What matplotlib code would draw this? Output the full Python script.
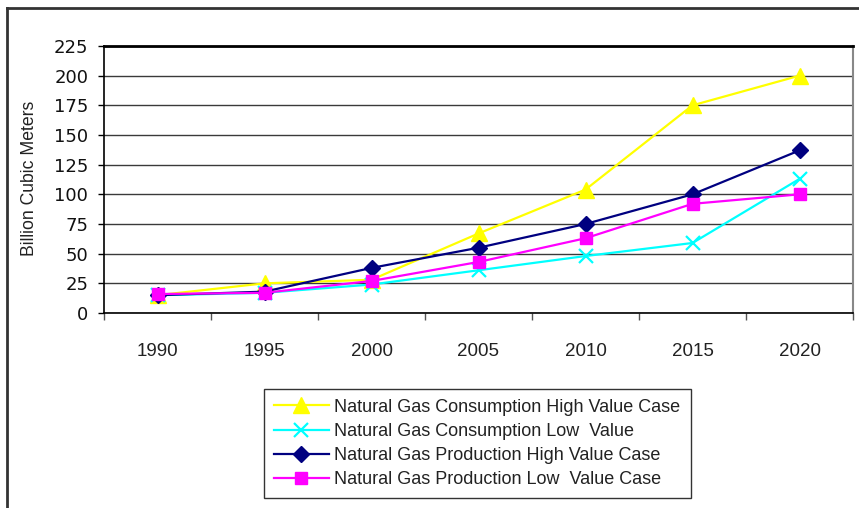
import matplotlib
matplotlib.use("Agg")
import matplotlib.pyplot as plt
from matplotlib.lines import Line2D

years = ["1990", "1995", "2000", "2005", "2010", "2015", "2020"]
cons_high = [15, 25, 28, 67, 104, 175, 200]
cons_low = [15, 17, 24, 36, 48, 59, 113]
prod_high = [15, 18, 38, 55, 75, 100, 137]
prod_low = [16, 17, 27, 43, 63, 92, 100]
labels = ["Natural Gas Consumption High Value Case",
          "Natural Gas Consumption Low  Value",
          "Natural Gas Production High Value Case",
          "Natural Gas Production Low  Value Case"]
yticks = [0, 25, 50, 75, 100, 125, 150, 175, 200, 225]

plt.rcParams['font.family'] = ['Liberation Sans', 'DejaVu Sans']

W, H = 859, 508
fig = plt.figure(figsize=(W / 100, H / 100), dpi=100)
ax = fig.add_axes([104 / W, (H - 313) / H, (853 - 104) / W, (313 - 46) / H])

x = list(range(len(years)))
series = [
    (cons_high, "#FFFF00", "^", 11, 1.6),
    (cons_low, "#00FFFF", "x", 10, 1.6),
    (prod_high, "#000080", "D", 8, 1.6),
    (prod_low, "#FF00FF", "s", 8.5, 1.6),
]
handles = []
for (vals, col, mk, ms, lw), lab in zip(series, labels):
    kw = dict(color=col, marker=mk, markersize=ms, linewidth=lw, label=lab)
    if mk == "x":
        kw["markeredgewidth"] = 1.6
    else:
        kw["markeredgecolor"] = col
    h, = ax.plot(x, vals, **kw)
    handles.append(h)

ax.set_xlim(-0.5, len(years) - 0.5)
ax.set_ylim(0, 225)
ax.set_yticks(yticks)
ax.set_yticklabels([str(v) for v in yticks], fontsize=13,
                   family=['DejaVu Sans'], color="#111111")
ax.set_xticks(x)
ax.set_xticklabels(years, fontsize=13.5, color="#222222")
ax.set_xticks([i - 0.5 for i in range(len(years) + 1)], minor=True)
ax.tick_params(axis="x", which="major", length=0, pad=21.5)
ax.tick_params(axis="x", which="minor", length=5, width=1, color="#555555")
ax.tick_params(axis="y", length=4.3, width=1, pad=7)
ax.grid(axis="y", color="#3a3a3a", linewidth=1)
ax.set_axisbelow(True)
for s in ["left", "bottom"]:
    ax.spines[s].set_color("black")
    ax.spines[s].set_linewidth(1.2)
ax.spines["top"].set_color("black")
ax.spines["top"].set_linewidth(2)
ax.spines["right"].set_color("#888888")
ax.spines["right"].set_linewidth(1.5)

ax.set_ylabel("Billion Cubic Meters", fontsize=12.7, color="#222222")
ax.yaxis.set_label_coords(-(104 - 38) / (853 - 104), (313 - 178) / (313 - 46))

leg = fig.legend(handles=handles, labels=labels, loc="center",
                 bbox_to_anchor=(477.5 / W, (H - 443.5) / H),
                 fontsize=13, frameon=True, fancybox=False, handlelength=3.0,
                 labelspacing=0.4, handletextpad=0.33, borderpad=0.55,
                 borderaxespad=0)
leg.get_frame().set_edgecolor("black")
leg.get_frame().set_linewidth(1)
for t in leg.get_texts():
    t.set_color("#222222")

# outer frame
fig.add_artist(Line2D([7 / W, 7 / W], [0, (H - 8) / H], color="#333333", linewidth=2))
fig.add_artist(Line2D([7 / W, 1], [(H - 8) / H, (H - 8) / H], color="#333333", linewidth=2))

fig.savefig("out.png", dpi=100)
